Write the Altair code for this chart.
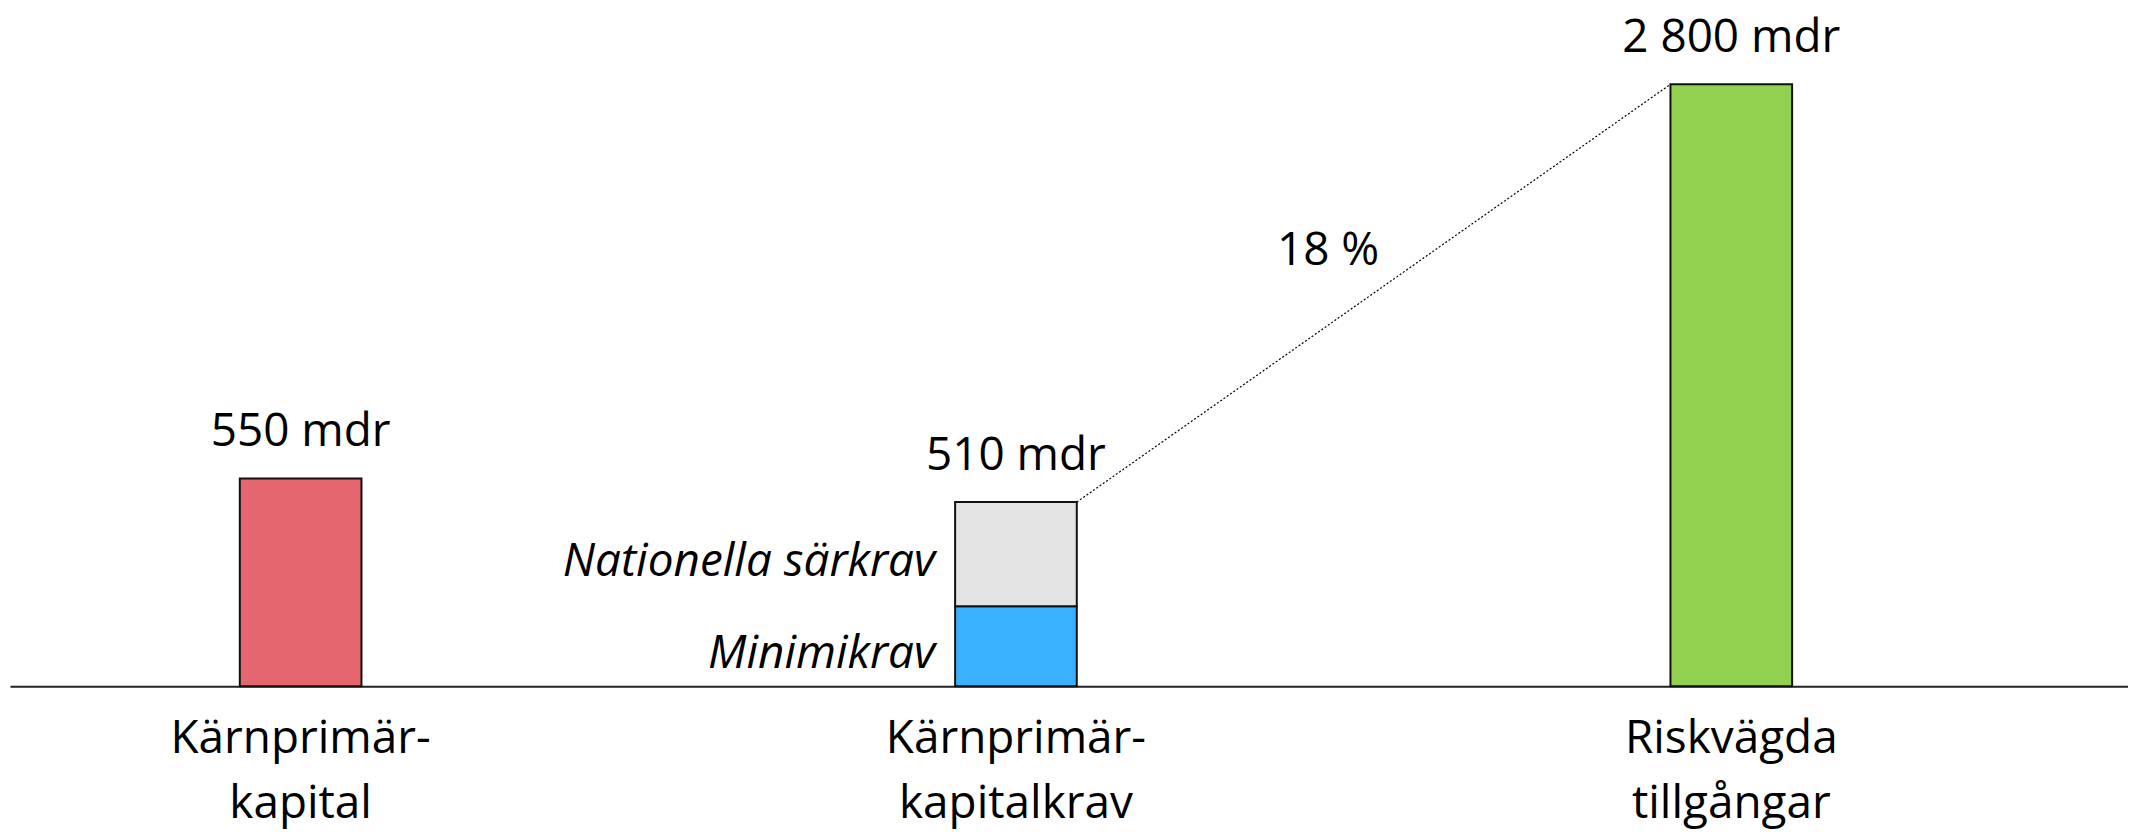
import altair as alt
import pandas as pd

# ---- data ----
categories = ["Kärnprimär-\nkapital", "Kärnprimär-\nkapitalkrav", "Riskvägda\ntillgångar"]
amounts_mdr = [550, 510, 2800]
# the bars are schematic: drawn height as % of the plot height
drawn_heights = [30.7, 27.2, 88.9]
# stacked parts of the middle bar (bottom to top), schematic heights
segment_names = ["Minimikrav", "Nationella särkrav"]
segment_heights = [11.8, 15.4]

part_names = ["Kärnprimärkapital", "Minimikrav", "Nationella särkrav", "Riskvägda tillgångar"]
part_colors = ["#E5666F", "#3AB1FF", "#E4E4E4", "#92D050"]

FONT = "Open Sans"
FS = 46

def fmt(v):
    return f"{v:,}".replace(",", " ") + " mdr"

# bars table
rows = [
    {"cat": categories[0], "part": part_names[0], "y0": 0.0, "y1": drawn_heights[0]},
]
base = 0.0
for name, h in zip(segment_names, segment_heights):
    rows.append({"cat": categories[1], "part": name, "y0": base, "y1": base + h})
    base += h
rows.append({"cat": categories[2], "part": part_names[3], "y0": 0.0, "y1": drawn_heights[2]})
bars_df = pd.DataFrame(rows)

labels_df = pd.DataFrame({
    "cat": categories,
    "top": drawn_heights,
    "label": [fmt(v) for v in amounts_mdr],
})

seg_rows = []
base = 0.0
for name, h in zip(segment_names, segment_heights):
    seg_rows.append({"cat": categories[1], "mid": base + h / 2, "text": name})
    base += h
seg_df = pd.DataFrame(seg_rows)

pct = round(amounts_mdr[1] / amounts_mdr[2] * 100)
conn_df = pd.DataFrame([{
    "from": categories[1], "to": categories[2],
    "y_from": drawn_heights[1], "y_to": drawn_heights[2],
    "mid": (drawn_heights[1] + drawn_heights[2]) / 2,
    "pct": f"{pct} %",
}])

xscale = alt.Scale(domain=categories, paddingInner=0.18742, paddingOuter=0.074155, align=0)
yscale = alt.Scale(domain=[0, 100], nice=False, zero=True)

xaxis = alt.Axis(
    title=None, labelExpr="split(datum.label, '\\n')", labelAngle=0,
    ticks=False, tickSize=0, domainColor="#222", domainWidth=2,
    labelFont=FONT, labelFontSize=FS, labelColor="#000", labelLimit=0,
    labelPadding=30, labelLineHeight=66, labelBaseline="top", grid=False,
)

def X(field):
    return alt.X(f"{field}:N", scale=xscale, axis=xaxis)

def Y(field):
    return alt.Y(f"{field}:Q", scale=yscale, axis=None)

bars = alt.Chart(bars_df).mark_bar(size=122, stroke="#111", strokeWidth=2).encode(
    x=X("cat"),
    y=Y("y0"),
    y2="y1:Q",
    color=alt.Color("part:N", scale=alt.Scale(domain=part_names, range=part_colors), legend=None),
)

value_labels = alt.Chart(labels_df).mark_text(
    font=FONT, fontSize=FS, color="#000", align="center", baseline="alphabetic", dy=-32
).encode(x=X("cat"), y=Y("top"), text="label:N")

seg_labels = alt.Chart(seg_df).mark_text(
    font=FONT, fontSize=FS, fontStyle="italic", color="#000",
    align="right", baseline="middle", dx=-81, dy=8
).encode(x=X("cat"), y=Y("mid"), text="text:N")

connector = alt.Chart(conn_df).mark_rule(
    xOffset=61, x2Offset=-61, strokeDash=[2, 2], strokeWidth=1.2, color="#000"
).encode(x=X("from"), x2="to:N", y=Y("y_from"), y2="y_to:Q")

pct_label = alt.Chart(conn_df).mark_text(
    font=FONT, fontSize=FS, color="#000", align="center", baseline="middle", dx=313, dy=-42
).encode(x=X("from"), y=Y("mid"), text="pct:N")

chart = alt.layer(bars, connector, value_labels, seg_labels, pct_label).properties(
    width=2124, height=679,
    padding={"left": 2, "top": 0, "right": 0, "bottom": 2},
).configure(font=FONT, view=alt.ViewConfig(stroke="transparent"))

chart.save("out.html", embed_options={"renderer": "svg", "actions": False})
